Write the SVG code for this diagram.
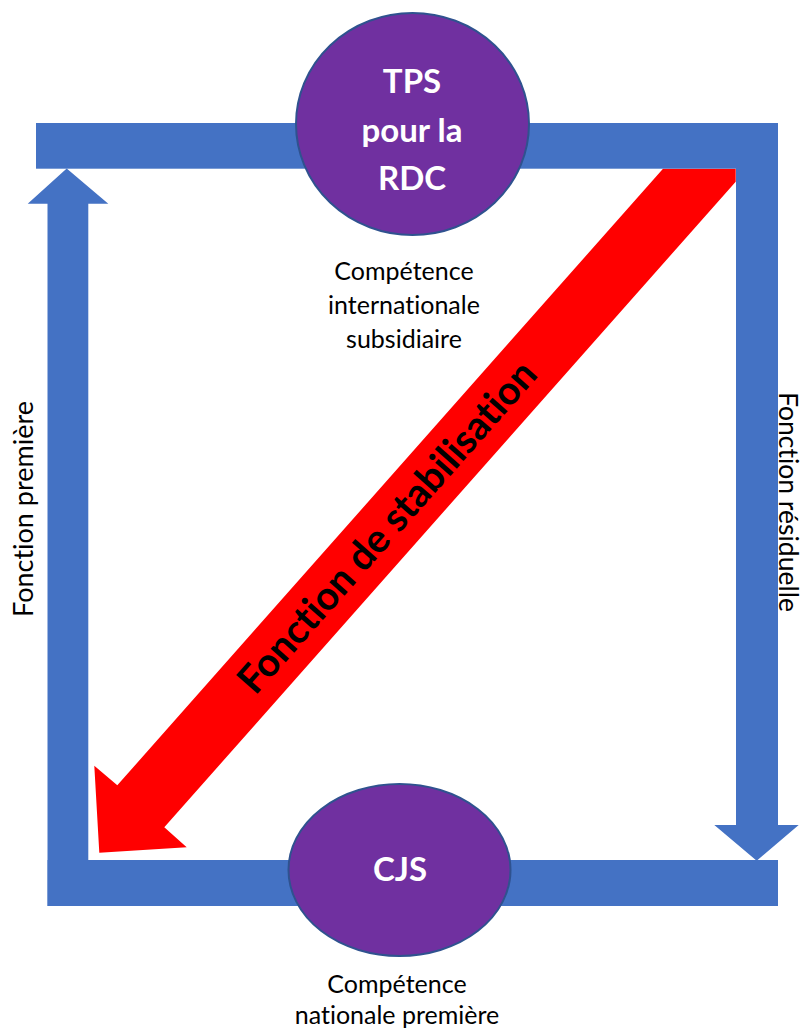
<svg xmlns="http://www.w3.org/2000/svg" width="806" height="1032" viewBox="0 0 806 1032">
<style>
.blue{fill:#4472C4}
.red{fill:#FF0000}
.node{fill:#7030A0;stroke:#2F528F;stroke-width:2}
text{font-variant-ligatures:none;font-feature-settings:"liga" 0,"dlig" 0}
.ntxt{font-family:Lato,"Open Sans",sans-serif;font-weight:bold;font-size:33px;fill:#FFFFFF;text-anchor:middle}
.lbl{font-family:Lato,"Open Sans",sans-serif;font-size:25px;fill:#000000;text-anchor:middle}
.side{font-family:Lato,"Open Sans",sans-serif;font-size:27px;fill:#000000;text-anchor:middle}
.stab{font-family:Lato,"Open Sans",sans-serif;font-weight:bold;font-size:39.5px;fill:#000000;text-anchor:middle}
</style>
<rect width="806" height="1032" fill="#FFFFFF"/>
<g id="connectors">
<polygon id="stabilisation" class="red" points="663,168.7 735.7,168.7 735.7,181.7 164.3,827.3 186.7,847.3 99.3,852.7 94.3,765.7 117.3,785.3"/>
<rect id="top-bar" class="blue" x="36" y="123" width="742" height="45.7"/>
<polygon id="residuelle" class="blue" points="736,123 778,123 778,825 798.7,825 756.7,860.7 714.3,825 736,825"/>
<rect id="bottom-bar" class="blue" x="47.3" y="860" width="730.7" height="46"/>
<polygon id="premiere" class="blue" points="47.5,860 47.5,203.7 27.7,203.7 66.7,168.5 108.3,203.7 88.3,203.7 88.3,860"/>
<text class="stab" transform="translate(387,527) rotate(-48.5)" y="13.5">Fonction de stabilisation</text>
<text class="side" transform="translate(33,509) rotate(-90)">Fonction première</text>
<text class="side" transform="translate(779,502) rotate(90)" style="font-size:26.5px">Fonction résiduelle</text>
</g>
<g id="tps">
<ellipse class="node" cx="412.5" cy="124" rx="116.5" ry="111"/>
<text class="ntxt" x="412" y="93">TPS</text>
<text class="ntxt" x="412" y="141.5">pour la</text>
<text class="ntxt" x="412" y="190">RDC</text>
</g>
<g id="tps-label">
<text class="lbl" x="404" y="280">Compétence</text>
<text class="lbl" x="404" y="314">internationale</text>
<text class="lbl" x="404" y="347.5">subsidiaire</text>
</g>
<g id="cjs">
<ellipse class="node" cx="399.5" cy="870" rx="111" ry="86"/>
<text class="ntxt" x="400" y="881">CJS</text>
</g>
<g id="cjs-label">
<text class="lbl" x="397" y="993">Compétence</text>
<text class="lbl" x="397" y="1024">nationale première</text>
</g>
</svg>
